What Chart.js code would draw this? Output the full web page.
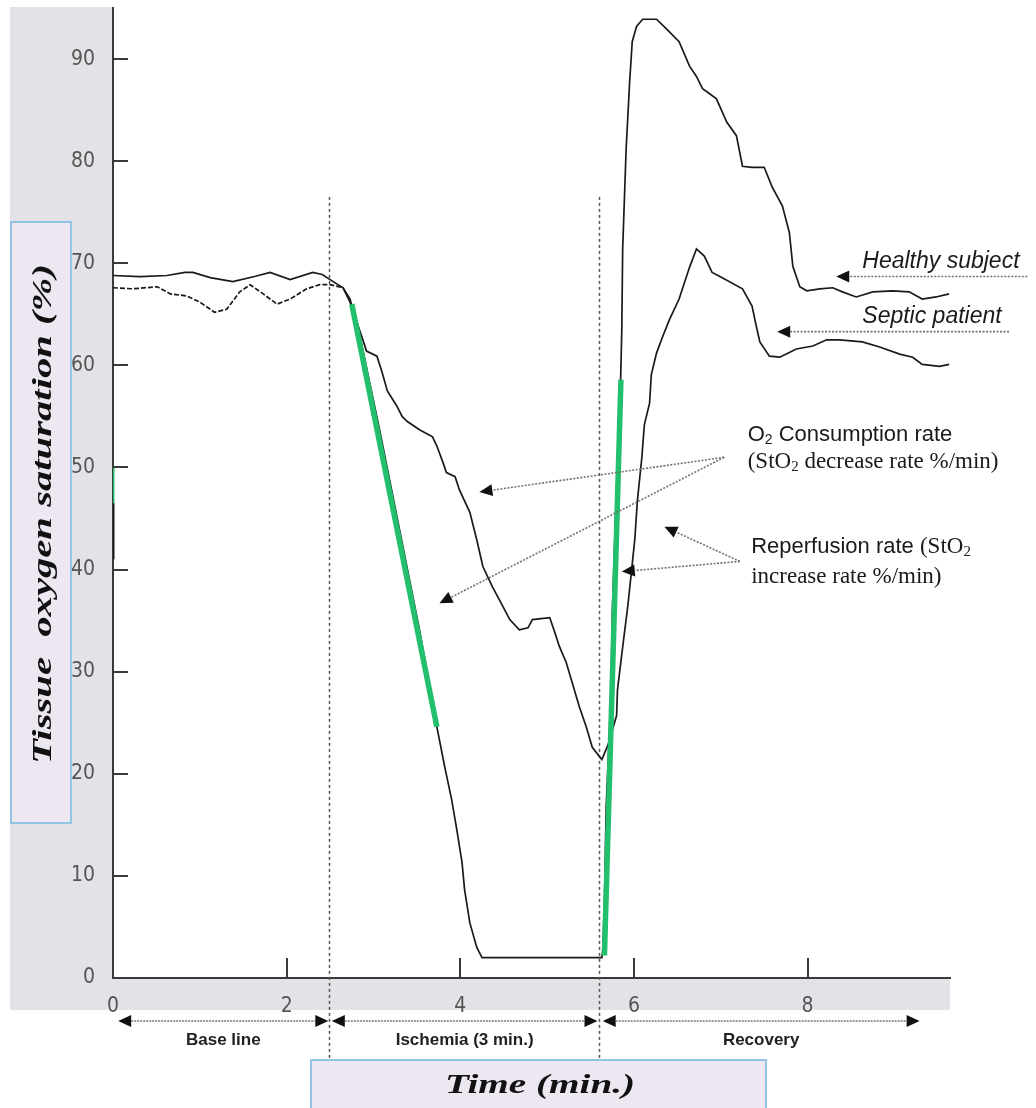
<!DOCTYPE html>
<html>
<head>
<meta charset="utf-8">
<title>Tissue oxygen saturation during vascular occlusion test</title>
<script src="https://cdn.jsdelivr.net/npm/chart.js@4.4.1/dist/chart.umd.min.js"></script>
<style>
  html, body { margin: 0; padding: 0; background: #fff; }
  #wrap { width: 1036px; height: 1108px; }
</style>
</head>
<body>
<div id="wrap"><canvas id="c" width="1036" height="1108"></canvas></div>
<script>
// StO2 traces (time in minutes, saturation in %)
const healthyTime = [0.00,0.31,0.62,0.83,0.92,1.12,1.38,1.63,1.81,2.04,2.30,2.41,2.50,2.65,2.73,2.84,3.07,3.30,3.53,3.73,3.82,3.90,3.96,4.02,4.05,4.11,4.19,4.25,5.63,5.64,5.66,5.68,5.74,5.75,5.80,5.84,5.86,5.87,5.89,5.91,5.95,5.98,6.03,6.10,6.26,6.38,6.52,6.64,6.72,6.79,6.84,6.95,7.07,7.18,7.25,7.36,7.50,7.59,7.71,7.79,7.83,7.91,7.99,8.14,8.29,8.40,8.56,8.75,8.98,9.17,9.32,9.48,9.63];
const healthySat = [68.8,68.7,68.8,69.1,69.1,68.6,68.2,68.7,69.1,68.4,69.1,68.9,68.4,67.6,66.5,63.0,53.7,43.9,34.1,24.6,20.7,17.5,14.5,11.3,8.6,5.4,3.0,2.0,2.0,2.6,7.2,16.7,28.6,35.6,48.0,56.3,63.5,71.4,76.3,81.2,87.7,91.7,93.2,93.9,93.9,92.9,91.7,89.3,88.3,87.1,86.8,86.1,83.8,82.5,79.5,79.4,79.4,77.5,75.6,73.0,69.7,67.7,67.3,67.5,67.6,67.2,66.7,67.2,67.3,67.2,66.5,66.7,67.0];

const septicTime = [0.00,0.23,0.51,0.66,0.85,1.00,1.17,1.31,1.46,1.58,1.73,1.89,2.04,2.23,2.38,2.50,2.65,2.73,2.87,2.92,3.04,3.10,3.16,3.27,3.33,3.39,3.53,3.68,3.73,3.80,3.84,3.94,3.99,4.11,4.19,4.26,4.37,4.49,4.57,4.68,4.78,4.83,5.03,5.09,5.14,5.22,5.29,5.37,5.45,5.52,5.63,5.70,5.80,5.81,5.87,5.93,5.97,6.01,6.04,6.09,6.12,6.18,6.20,6.26,6.33,6.41,6.52,6.64,6.72,6.81,6.90,6.99,7.25,7.36,7.41,7.45,7.56,7.68,7.87,8.06,8.22,8.37,8.63,8.83,9.06,9.21,9.32,9.52,9.63];
const septicSat = [67.6,67.5,67.7,67.0,66.8,66.2,65.2,65.5,67.2,67.9,67.0,66.0,66.5,67.5,67.9,67.9,67.6,66.2,62.7,61.4,60.9,59.3,57.5,56.0,55.0,54.5,53.7,53.0,52.1,50.5,49.5,49.1,47.8,45.6,42.9,40.3,38.3,36.4,35.1,34.1,34.3,35.1,35.3,33.8,32.5,30.9,28.9,26.6,24.6,22.6,21.4,22.8,25.7,28.2,32.4,36.5,39.7,43.0,46.8,50.9,54.2,56.3,59.1,61.2,62.8,64.5,66.5,69.6,71.4,70.7,69.1,68.7,67.5,65.8,63.8,62.3,60.9,60.8,61.6,61.9,62.5,62.5,62.3,61.8,61.1,60.8,60.1,59.9,60.1];

// Linear fits: desaturation slope (O2 consumption) and resaturation slope (reperfusion)
const consumptionFitTime = [2.75, 3.73];
const consumptionFitSat = [66.0, 24.6];
const reperfusionFitTime = [5.66, 5.85];
const reperfusionFitSat = [2.2, 58.6];

// Short trace segment sitting on the time origin
const originMarkGreenSat = [50.0, 46.5];
const originMarkBlackSat = [46.5, 41.0];

// Protocol phases (minutes)
const phaseNames = ['Base line', 'Ischemia (3 min.)', 'Recovery'];
const phaseStart = [0.06, 2.52, 5.64];
const phaseEnd = [2.48, 5.58, 9.29];
const occlusionMarks = [2.49, 5.60];

// Axis ticks
const timeTicks = [0, 2, 4, 6, 8];
const satTicks = [0, 10, 20, 30, 40, 50, 60, 70, 80, 90];

const SANS = '"Liberation Sans", Arial, Helvetica, sans-serif';
const SERIF = '"Liberation Serif", "Times New Roman", Times, serif';
const TICK_FONT = '"Liberation Sans Narrow", "DejaVu Sans Condensed", "Liberation Sans", sans-serif';

const pts = (t, v) => t.map((x, i) => ({ x, y: v[i] }));

function panel(ctx, x, y, w, h) {
  ctx.save();
  ctx.fillStyle = '#ece7f0';
  ctx.fillRect(x, y, w, h);
  ctx.strokeStyle = '#93c4e3';
  ctx.lineWidth = 2;
  ctx.strokeRect(x, y, w, h);
  ctx.restore();
}

function stretchedText(ctx, text, font, cx, cy, targetW, vertical) {
  ctx.save();
  ctx.font = font;
  const w = ctx.measureText(text).width;
  ctx.translate(cx, cy);
  if (vertical) ctx.rotate(-Math.PI / 2);
  ctx.scale(targetW / w, 1);
  ctx.textAlign = 'center';
  ctx.textBaseline = 'middle';
  ctx.fillStyle = '#111';
  ctx.fillText(text, 0, 0);
  ctx.restore();
}

function runs(ctx, parts, x, y) {
  ctx.textAlign = 'left';
  ctx.textBaseline = 'middle';
  let cx = x;
  for (const p of parts) {
    ctx.font = p.f;
    ctx.fillText(p.t, cx, y + (p.dy || 0));
    cx += ctx.measureText(p.t).width;
  }
}

function head(ctx, x1, y1, ang, L, W) {
  const bx = x1 - L * Math.cos(ang), by = y1 - L * Math.sin(ang);
  ctx.beginPath();
  ctx.moveTo(x1, y1);
  ctx.lineTo(bx + W * Math.sin(ang), by - W * Math.cos(ang));
  ctx.lineTo(bx - W * Math.sin(ang), by + W * Math.cos(ang));
  ctx.closePath();
  ctx.fill();
  return [bx, by];
}

function pointer(ctx, x0, y0, x1, y1) {
  const ang = Math.atan2(y1 - y0, x1 - x0);
  ctx.save();
  ctx.fillStyle = '#111';
  const [bx, by] = head(ctx, x1, y1, ang, 13, 6);
  ctx.strokeStyle = '#707070';
  ctx.lineWidth = 1.6;
  ctx.setLineDash([2, 1.5]);
  ctx.beginPath();
  ctx.moveTo(x0, y0);
  ctx.lineTo(bx, by);
  ctx.stroke();
  ctx.restore();
}

function doubleArrow(ctx, xa, xb, y) {
  ctx.save();
  ctx.fillStyle = '#111';
  const [ax] = head(ctx, xa, y, Math.PI, 13, 6);
  const [bx] = head(ctx, xb, y, 0, 13, 6);
  ctx.strokeStyle = '#777';
  ctx.lineWidth = 1.6;
  ctx.setLineDash([2, 1]);
  ctx.beginPath();
  ctx.moveTo(ax, y);
  ctx.lineTo(bx, y);
  ctx.stroke();
  ctx.restore();
}

const backdrop = {
  id: 'backdrop',
  beforeDraw(chart) {
    const { ctx, chartArea: a } = chart;
    ctx.save();
    ctx.fillStyle = '#fff';
    ctx.fillRect(0, 0, chart.width, chart.height);
    ctx.fillStyle = '#e3e3e7';
    ctx.fillRect(10, 7, a.left - 10, a.bottom + 32 - 7);
    ctx.fillRect(10, a.bottom, a.right - 10, 32);
    panel(ctx, 11, 222, 60, 601);
    stretchedText(ctx, 'Tissue  oxygen saturation (%)', `italic bold 28px ${SERIF}`, 44, 514, 500, true);
    ctx.restore();
  },
  beforeDatasetsDraw(chart) {
    const { ctx, chartArea: a, scales: { x, y } } = chart;
    ctx.save();
    ctx.strokeStyle = '#555';
    ctx.lineWidth = 1.5;
    ctx.setLineDash([3, 3]);
    for (const t of occlusionMarks) {
      const px = Math.round(x.getPixelForValue(t)) + 0.5;
      ctx.beginPath();
      ctx.moveTo(px, y.getPixelForValue(76.5));
      ctx.lineTo(px, a.bottom + 82);
      ctx.stroke();
    }
    ctx.restore();
  }
};

const overlay = {
  id: 'overlay',
  afterDraw(chart) {
    const { ctx, chartArea: a, scales: { x, y } } = chart;
    ctx.save();
    // inward tick marks
    ctx.strokeStyle = '#3a3a3a';
    ctx.lineWidth = 2;
    for (const v of satTicks) {
      if (v === 0) continue;
      const py = Math.round(y.getPixelForValue(v));
      ctx.beginPath(); ctx.moveTo(a.left, py); ctx.lineTo(a.left + 15, py); ctx.stroke();
    }
    for (const v of timeTicks) {
      if (v === 0) continue;
      const px = Math.round(x.getPixelForValue(v));
      ctx.beginPath(); ctx.moveTo(px, a.bottom); ctx.lineTo(px, a.bottom - 20); ctx.stroke();
    }

    // curve labels
    ctx.fillStyle = '#1a1a1a';
    ctx.font = `italic 23px ${SANS}`;
    ctx.textAlign = 'left'; ctx.textBaseline = 'middle';
    ctx.fillText('Healthy subject', x.getPixelForValue(8.63), y.getPixelForValue(70.2));
    ctx.fillText('Septic patient', x.getPixelForValue(8.63), y.getPixelForValue(64.8));
    pointer(ctx, x.getPixelForValue(10.53), y.getPixelForValue(68.7), x.getPixelForValue(8.33), y.getPixelForValue(68.7));
    pointer(ctx, x.getPixelForValue(10.32), y.getPixelForValue(63.3), x.getPixelForValue(7.65), y.getPixelForValue(63.3));

    // slope annotations
    ctx.fillStyle = '#1a1a1a';
    runs(ctx, [
      { t: 'O', f: `22px ${SANS}` },
      { t: '2', f: `14px ${SANS}`, dy: 5 },
      { t: ' Consumption rate', f: `22px ${SANS}` }
    ], x.getPixelForValue(7.31), y.getPixelForValue(53.2));
    runs(ctx, [
      { t: '(StO', f: `23px ${SERIF}` },
      { t: '2', f: `15px ${SERIF}`, dy: 5 },
      { t: ' decrease rate %/min)', f: `23px ${SERIF}` }
    ], x.getPixelForValue(7.31), y.getPixelForValue(50.5));
    runs(ctx, [
      { t: 'Reperfusion rate ', f: `22px ${SANS}` },
      { t: '(StO', f: `23px ${SERIF}` },
      { t: '2', f: `15px ${SERIF}`, dy: 5 }
    ], x.getPixelForValue(7.35), y.getPixelForValue(42.2));
    runs(ctx, [
      { t: 'increase rate %/min)', f: `23px ${SERIF}` }
    ], x.getPixelForValue(7.35), y.getPixelForValue(39.3));

    const o1x = x.getPixelForValue(7.04), o1y = y.getPixelForValue(51.0);
    pointer(ctx, o1x, o1y, x.getPixelForValue(4.22), y.getPixelForValue(47.6));
    pointer(ctx, o1x, o1y, x.getPixelForValue(3.76), y.getPixelForValue(36.7));
    const o2x = x.getPixelForValue(7.22), o2y = y.getPixelForValue(40.8);
    pointer(ctx, o2x, o2y, x.getPixelForValue(5.86), y.getPixelForValue(39.8));
    pointer(ctx, o2x, o2y, x.getPixelForValue(6.35), y.getPixelForValue(44.2));

    // protocol phases under the time axis
    const arrowY = a.bottom + 43;
    phaseNames.forEach((name, i) => {
      const xa = x.getPixelForValue(phaseStart[i]);
      const xb = x.getPixelForValue(phaseEnd[i]);
      doubleArrow(ctx, xa, xb, arrowY);
      ctx.fillStyle = '#222';
      ctx.font = `bold 17px ${SANS}`;
      ctx.textAlign = 'center'; ctx.textBaseline = 'middle';
      ctx.fillText(name, (xa + xb) / 2, a.bottom + 62);
    });

    // time axis title
    panel(ctx, 311, a.bottom + 82, 455, 60);
    stretchedText(ctx, 'Time (min.)', `italic bold 28px ${SERIF}`, 540, a.bottom + 108, 190, false);
    ctx.restore();
  }
};

// keep the plot frame exactly where the layout padding puts it
function noLabelPadding(s) {
  s.paddingTop = 0; s.paddingBottom = 0; s.paddingLeft = 0; s.paddingRight = 0;
}

new Chart(document.getElementById('c').getContext('2d'), {
  type: 'line',
  data: {
    datasets: [
      { label: 'O2 consumption rate', data: pts(consumptionFitTime, consumptionFitSat), borderColor: '#22bf6d', borderWidth: 5.5, order: 0 },
      { label: 'Reperfusion rate', data: pts(reperfusionFitTime, reperfusionFitSat), borderColor: '#22bf6d', borderWidth: 5.5, order: 0 },
      { label: 'origin green', data: pts([0, 0], originMarkGreenSat), borderColor: '#22bf6d', borderWidth: 3, order: 0 },
      { label: 'origin black', data: pts([0, 0], originMarkBlackSat), borderColor: '#1a1a1a', borderWidth: 3, order: 0 },
      { label: 'Healthy subject', data: pts(healthyTime, healthySat), borderColor: '#1a1a1a', borderWidth: 1.7, order: 1 },
      {
        label: 'Septic patient', data: pts(septicTime, septicSat), borderColor: '#1a1a1a', borderWidth: 1.7, order: 1,
        segment: { borderDash: c => (c.p0.parsed.x < 2.55 ? [5, 2] : undefined) }
      }
    ]
  },
  options: {
    responsive: false,
    animation: false,
    devicePixelRatio: 1,
    events: [],
    layout: { padding: { left: 0, top: 8, right: 86, bottom: 0 } },
    elements: { point: { radius: 0 }, line: { tension: 0, fill: false, borderCapStyle: 'butt' } },
    plugins: { legend: { display: false }, tooltip: { enabled: false }, title: { display: false } },
    scales: {
      x: {
        type: 'linear', min: 0, max: 9.64,
        afterFit(s) { s.height = 130; noLabelPadding(s); },
        afterBuildTicks(s) { s.ticks = timeTicks.map(v => ({ value: v })); },
        grid: { display: false },
        border: { display: true, color: '#3a3a3a', width: 2 },
        ticks: { padding: 8, maxRotation: 0, color: '#555', font: { family: TICK_FONT, size: 21 } }
      },
      y: {
        type: 'linear', min: 0, max: 95,
        afterFit(s) { s.width = 113; noLabelPadding(s); },
        afterBuildTicks(s) { s.ticks = satTicks.map(v => ({ value: v })); },
        grid: { display: false },
        border: { display: true, color: '#3a3a3a', width: 2 },
        ticks: { padding: 10, color: '#555', font: { family: TICK_FONT, size: 21 } }
      }
    }
  },
  plugins: [backdrop, overlay]
});
</script>
</body>
</html>
